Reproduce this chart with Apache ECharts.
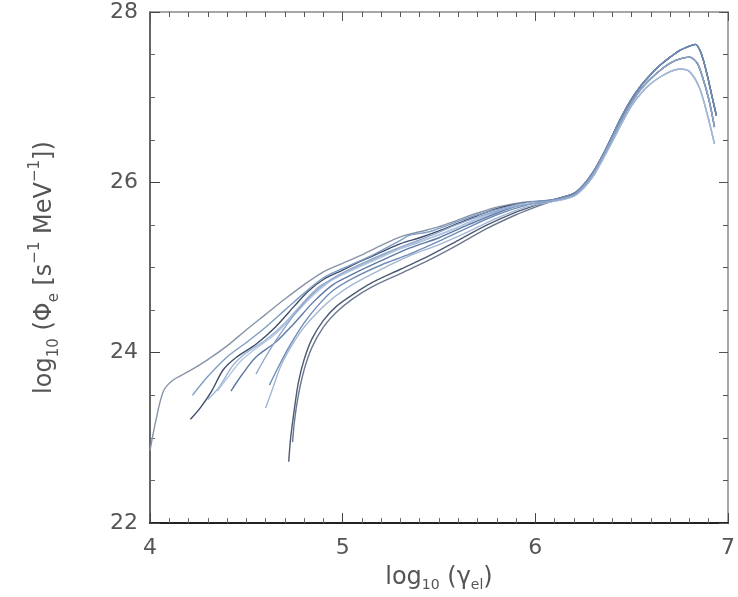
<!DOCTYPE html>
<html>
<head>
<meta charset="utf-8">
<script src="https://cdn.jsdelivr.net/npm/echarts@6/dist/echarts.min.js"></script>
<style>
    html, body { margin: 0; padding: 0; background: #fff; }
    #chart { width: 738px; height: 597px; }
</style>
</head>
<body>
<div id="chart"></div>
<script>
// shared tails above log gamma ~ 6.1 (curves collapse onto one band)
const tailHigh = [[6.1,25.8],[6.2,25.87],[6.25,25.97],[6.3,26.12],[6.35,26.32],[6.4,26.55],[6.45,26.78],[6.5,26.98],[6.55,27.14],[6.6,27.27],[6.65,27.38],[6.7,27.47],[6.75,27.55],[6.8,27.6],[6.83,27.62],[6.86,27.52],[6.89,27.28],[6.92,26.98],[6.94,26.78]]
const tailMid = [[6.1,25.79],[6.2,25.85],[6.25,25.95],[6.3,26.1],[6.35,26.3],[6.4,26.52],[6.45,26.74],[6.5,26.94],[6.55,27.1],[6.6,27.22],[6.65,27.32],[6.7,27.4],[6.75,27.45],[6.8,27.47],[6.84,27.4],[6.87,27.22],[6.9,26.98],[6.93,26.65]]
const tailLow = [[6.1,25.78],[6.2,25.84],[6.25,25.93],[6.3,26.07],[6.35,26.27],[6.4,26.48],[6.45,26.7],[6.5,26.9],[6.55,27.05],[6.6,27.16],[6.65,27.24],[6.7,27.3],[6.75,27.33],[6.8,27.3],[6.85,27.12],[6.89,26.82],[6.93,26.45]]

// low-energy parts of each curve
const c1 = [[4.0,22.85],[4.03,23.2],[4.07,23.55],[4.12,23.68],[4.2,23.78],[4.3,23.92],[4.4,24.08],[4.5,24.27],[4.6,24.45],[4.7,24.63],[4.8,24.8],[4.9,24.95],[5.0,25.05],[5.1,25.15],[5.2,25.26],[5.3,25.36],[5.4,25.42],[5.5,25.48],[5.6,25.56],[5.7,25.64],[5.8,25.71],[5.95,25.77]]
const c2 = [[4.21,23.22],[4.26,23.35],[4.32,23.55],[4.38,23.8],[4.45,23.95],[4.55,24.1],[4.65,24.3],[4.75,24.55],[4.82,24.72],[4.9,24.86],[5.0,24.97],[5.1,25.08],[5.2,25.18],[5.3,25.28],[5.4,25.35],[5.5,25.43],[5.6,25.52],[5.7,25.61],[5.8,25.69],[5.95,25.76]]
const c3 = [[4.22,23.5],[4.3,23.72],[4.4,23.95],[4.5,24.12],[4.6,24.3],[4.7,24.5],[4.8,24.7],[4.9,24.88],[5.0,24.99],[5.15,25.14],[5.3,25.32],[5.35,25.38],[5.45,25.42],[5.55,25.5],[5.7,25.62],[5.85,25.71],[5.98,25.77]]
const c4 = [[4.3,23.45],[4.36,23.6],[4.43,23.85],[4.5,24.0],[4.6,24.15],[4.7,24.35],[4.8,24.6],[4.88,24.78],[5.0,24.92],[5.1,25.03],[5.25,25.18],[5.4,25.3],[5.55,25.43],[5.7,25.57],[5.85,25.69],[5.98,25.75]]
const c5 = [[4.42,23.55],[4.48,23.75],[4.55,23.95],[4.65,24.12],[4.75,24.35],[4.85,24.6],[4.95,24.8],[5.05,24.92],[5.2,25.08],[5.35,25.23],[5.5,25.35],[5.65,25.5],[5.8,25.64],[5.95,25.75]]
const c6 = [[4.35,23.55],[4.4,23.7],[4.47,23.9],[4.55,24.05],[4.65,24.22],[4.75,24.45],[4.85,24.68],[4.95,24.86],[5.05,24.97],[5.2,25.12],[5.35,25.27],[5.5,25.38],[5.65,25.52],[5.8,25.66],[5.95,25.75]]
const l1 = [[4.72,22.72],[4.73,23.0],[4.75,23.35],[4.77,23.65],[4.8,23.92],[4.84,24.16],[4.9,24.38],[4.97,24.55],[5.05,24.68],[5.15,24.82],[5.3,24.98],[5.45,25.14],[5.6,25.32],[5.75,25.5],[5.9,25.65],[6.0,25.73]]
const l2 = [[4.74,22.95],[4.75,23.2],[4.77,23.5],[4.8,23.8],[4.84,24.06],[4.9,24.3],[4.97,24.48],[5.05,24.63],[5.15,24.77],[5.3,24.93],[5.45,25.09],[5.6,25.27],[5.75,25.46],[5.9,25.62],[6.0,25.71]]
const l3 = [[4.6,23.35],[4.64,23.6],[4.68,23.85],[4.74,24.1],[4.8,24.3],[4.88,24.5],[4.96,24.66],[5.05,24.8],[5.2,24.98],[5.35,25.14],[5.5,25.27],[5.65,25.42],[5.8,25.58],[5.95,25.71]]
const l4 = [[4.62,23.62],[4.67,23.85],[4.73,24.1],[4.8,24.35],[4.87,24.55],[4.95,24.73],[5.05,24.87],[5.2,25.03],[5.35,25.16],[5.5,25.31],[5.65,25.47],[5.8,25.62],[5.95,25.73]]
const l5 = [[4.55,23.75],[4.6,23.95],[4.67,24.2],[4.75,24.45],[4.83,24.66],[4.92,24.83],[5.02,24.96],[5.15,25.1],[5.3,25.24],[5.45,25.37],[5.6,25.51],[5.75,25.63],[5.9,25.72]]

const curves = [
    { data: c1, tail: tailMid, color: '#8894a8' },
    { data: c2, tail: tailHigh, color: '#3f4d6b' },
    { data: c3, tail: tailHigh, color: '#7f9cc4' },
    { data: c4, tail: tailLow, color: '#9cb4d6' },
    { data: c5, tail: tailMid, color: '#5d78a3' },
    { data: c6, tail: tailLow, color: '#b3c6e2' },
    { data: l1, tail: tailHigh, color: '#4d5a72' },
    { data: l2, tail: tailMid, color: '#6b7890' },
    { data: l3, tail: tailLow, color: '#a2b6d4' },
    { data: l4, tail: tailHigh, color: '#6f8db8' },
    { data: l5, tail: tailMid, color: '#8ea6c9' },
]

const xTicks = [4, 5, 6, 7]
const yTicks = [22, 24, 26, 28]

const myChart = echarts.init(document.getElementById('chart'))

const font = 'DejaVu Sans, Liberation Sans, sans-serif'
const sideAxis = {
    axisLine: { show: true, lineStyle: { color: '#8a8a8a', width: 1.5 } },
    axisTick: { show: true, inside: true, length: 9, lineStyle: { color: '#555' } },
    axisLabel: { show: false },
    splitLine: { show: false },
}

const option = {
    backgroundColor: '#fff',
    animation: false,
    grid: {
        left: 150,
        right: 9,
        top: 12,
        bottom: 72,
    },
    xAxis: [
        {
            type: 'value',
            min: xTicks[0],
            max: xTicks[xTicks.length - 1],
            interval: 1,
            name: 'log{sub|10} (γ{sub|el})',
            nameLocation: 'middle',
            nameGap: 40,
            nameTextStyle: {
                fontFamily: font,
                fontSize: 24,
                color: '#555',
                lineHeight: 28,
                rich: {
                    sub: { fontSize: 14, fontFamily: font, color: '#555', verticalAlign: 'bottom', lineHeight: 28 },
                },
            },
            axisLine: { show: true, lineStyle: { color: '#222', width: 2 } },
            axisTick: { show: true, inside: true, length: 10, lineStyle: { color: '#444' } },
            minorTick: { show: true, splitNumber: 10, length: 5, lineStyle: { color: '#666' } },
            axisLabel: { color: '#555', fontSize: 22, fontFamily: font, margin: 14 },
            splitLine: { show: false },
        },
        {
            type: 'value',
            position: 'top',
            min: xTicks[0],
            max: xTicks[xTicks.length - 1],
            interval: 1,
            ...sideAxis,
            minorTick: { show: true, splitNumber: 10, length: 5, lineStyle: { color: '#555' } },
        },
    ],
    yAxis: [
        {
            type: 'value',
            min: yTicks[0],
            max: yTicks[yTicks.length - 1],
            interval: 2,
            name: 'log{sub|10} (Φ{sub|e} [s{sup|−1} MeV{sup|−1}])',
            nameLocation: 'middle',
            nameGap: 88,
            nameTextStyle: {
                fontFamily: font,
                fontSize: 24,
                color: '#555',
                lineHeight: 34,
                rich: {
                    sub: { fontSize: 15, fontFamily: font, color: '#555', verticalAlign: 'bottom', lineHeight: 34 },
                    sup: { fontSize: 15, fontFamily: font, color: '#555', verticalAlign: 'top', lineHeight: 34 },
                },
            },
            axisLine: { show: true, lineStyle: { color: '#666', width: 2 } },
            axisTick: { show: true, inside: true, length: 10, lineStyle: { color: '#444' } },
            minorTick: { show: true, splitNumber: 4, length: 5, lineStyle: { color: '#666' } },
            axisLabel: { color: '#555', fontSize: 22, fontFamily: font, margin: 12 },
            splitLine: { show: false },
        },
        {
            type: 'value',
            position: 'right',
            min: yTicks[0],
            max: yTicks[yTicks.length - 1],
            interval: 2,
            ...sideAxis,
            minorTick: { show: true, splitNumber: 4, length: 5, lineStyle: { color: '#555' } },
        },
    ],
    series: curves.map(c => ({
        type: 'line',
        data: c.data.concat(c.tail),
        showSymbol: false,
        smooth: 0.3,
        lineStyle: { color: c.color, width: 1.4 },
    })),
}

myChart.setOption(option)
</script>
</body>
</html>
